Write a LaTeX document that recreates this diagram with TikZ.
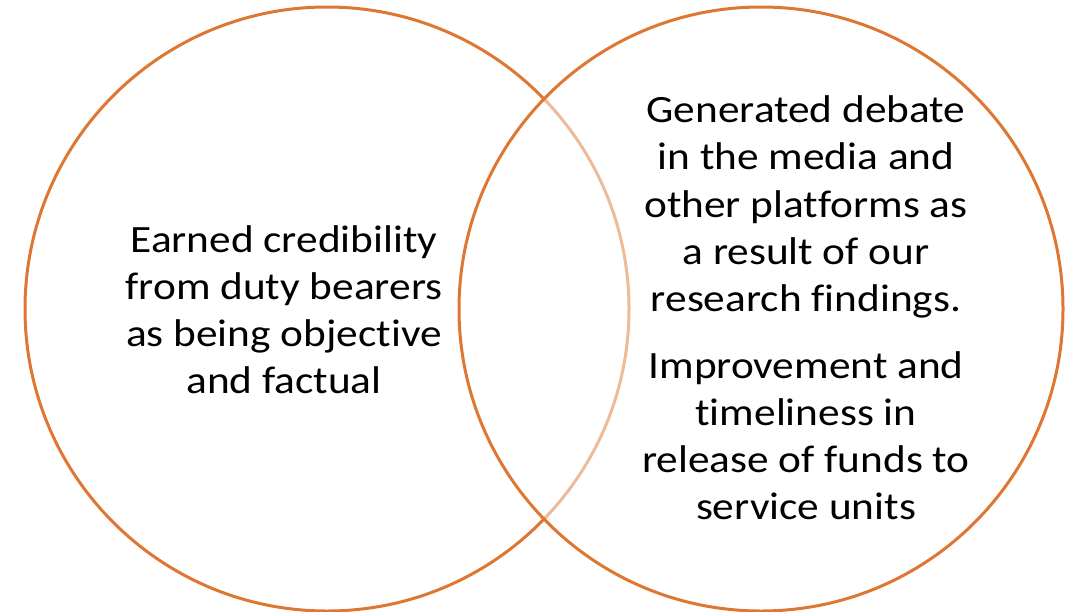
\documentclass[tikz,border=0pt]{standalone}
\usepackage{fontspec}
\setmainfont{Carlito}[Ligatures=NoCommon]
\definecolor{ringorange}{RGB}{221,119,50}
\tikzset{
  ring/.style={circle, draw=ringorange, line width=0.03cm, minimum size=6.04cm, inner sep=0pt},
  vtext/.style={align=center, font=\fontsize{11}{13.4}\selectfont, inner sep=0pt, xscale=1.12}
}
\begin{document}
\begin{tikzpicture}
\useasboundingbox (0,0) rectangle (10.71,6.11);
\node (leftring) [ring] at (3.27,3.02) {};
\node (rightring) [ring, fill=white, fill opacity=0.5] at (7.61,3.02) {};

\node (lefttext) [vtext] at (2.84,3.01) {Earned credibility\\from duty bearers\\as being objective\\and factual};
\node (righttext) [vtext] at (8.06,3.03) {Generated debate\\in the media and\\other platforms as\\a result of our\\research findings.\\[5.7pt]Improvement and\\timeliness in\\release of funds to\\service units};
\end{tikzpicture}
\end{document}
